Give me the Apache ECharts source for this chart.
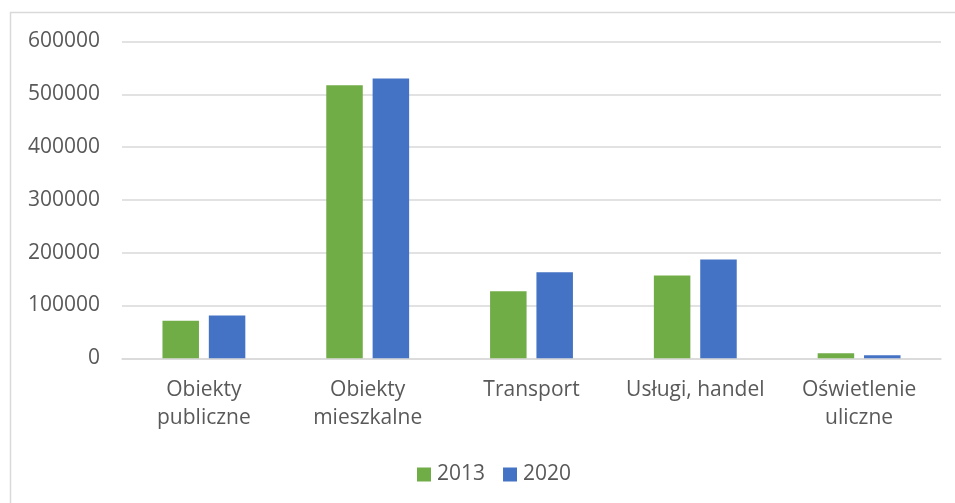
<!DOCTYPE html>
<html>
<head>
<meta charset="utf-8">
<script src="https://cdn.jsdelivr.net/npm/echarts@6/dist/echarts.min.js"></script>
<style>
html,body{margin:0;padding:0;background:#fff;}
#chart{width:955px;height:503px;}
</style>
</head>
<body>
<div id="chart"></div>
<script>
const categories = ['Obiekty\npubliczne', 'Obiekty\nmieszkalne', 'Transport', 'Usługi, handel', 'Oświetlenie\nuliczne'];
const seriesNames = ['2013', '2020'];
const values2013 = [71000, 517000, 127000, 157000, 9500];
const values2020 = [81000, 530000, 163000, 187000, 5700];
const yTicks = [0, 100000, 200000, 300000, 400000, 500000, 600000];

const FONT = '"Open Sans", "Noto Sans", sans-serif';
const chart = echarts.init(document.getElementById('chart'));
chart.setOption({
  animation: false,
  backgroundColor: '#ffffff',
  graphic: [{
    type: 'rect',
    shape: { x: 10.5, y: 12.5, width: 1000, height: 600 },
    style: { fill: 'none', stroke: '#d9d9d9', lineWidth: 1.5 },
    silent: true
  }],
  grid: { left: 122, right: 14, top: 41.5, bottom: 144.7, containLabel: false },
  legend: {
    data: seriesNames,
    top: 459,
    left: 412,
    itemWidth: 14,
    itemHeight: 14,
    itemGap: 18,
    icon: 'rect',
    textStyle: { color: '#595959', fontSize: 21, fontFamily: FONT, padding: [0, 0, 0, 1] }
  },
  xAxis: {
    type: 'category',
    data: categories,
    axisLine: { show: true, lineStyle: { color: '#d9d9d9', width: 1.5 } },
    axisTick: { show: false },
    axisLabel: {
      color: '#595959', fontSize: 21, fontFamily: FONT,
      lineHeight: 28, margin: 18, interval: 0
    }
  },
  yAxis: {
    type: 'value',
    min: yTicks[0],
    max: yTicks[yTicks.length - 1],
    interval: yTicks[1] - yTicks[0],
    axisLine: { show: false },
    axisTick: { show: false },
    splitLine: { lineStyle: { color: '#d9d9d9', width: 1.5 } },
    axisLabel: { color: '#595959', fontSize: 21, fontFamily: FONT, margin: 22,
      formatter: function (v) { return String(v); } }
  },
  series: [
    {
      name: seriesNames[0], type: 'bar', data: values2013,
      barWidth: 36.5, barGap: '27%',
      itemStyle: { color: '#70AD47' }
    },
    {
      name: seriesNames[1], type: 'bar', data: values2020,
      barWidth: 36.5,
      itemStyle: { color: '#4472C4' }
    }
  ]
});
</script>
</body>
</html>
